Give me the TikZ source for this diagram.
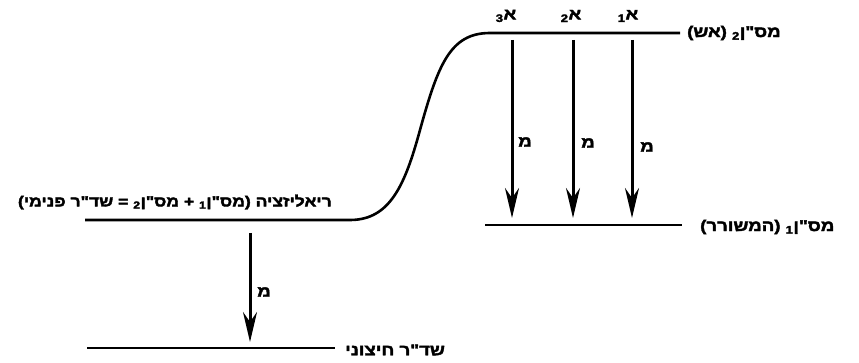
\documentclass[tikz,border=0pt]{standalone}
\usepackage{fontspec}
\setmainfont{Liberation Sans}
\newfontfamily\hebfont[Script=Hebrew,FakeStretch=1.2,FakeBold=2.5]{Liberation Sans}
\TeXXeTstate=1
\usetikzlibrary{arrows.meta}
\tikzset{
  level/.style={line width=2.6pt},
  down/.style={line width=3pt, -{Stealth[length=30pt,width=14pt,inset=10pt]}},
  heb/.style={font=\hebfont\bfseries\fontsize{15.5}{18}\selectfont, inner sep=0pt},
  hebsmall/.style={font=\hebfont\bfseries\fontsize{14.6}{17}\selectfont, inner sep=0pt},
}
\begin{document}
\begin{tikzpicture}[x=1pt,y=-1pt]
\useasboundingbox (0,0) rectangle (859,363);
% level lines
\coordinate (L1) at (85,220);
\coordinate (L2) at (350,220);
\coordinate (T1) at (490,33);
\coordinate (T2) at (680,33);
\coordinate (M1) at (485,225);
\coordinate (M2) at (682,225);
\coordinate (B1) at (87,348);
\coordinate (B2) at (335,348);
\draw[level] (L1) -- (L2) .. controls (390,220) and (405,185) .. (420,130)
  .. controls (438,65) and (450,33) .. (T1) -- (T2);
\draw[level] (M1) -- (M2);
\draw[level] (B1) -- (B2);
% arrows
\coordinate (a3s) at (512,40);  \coordinate (a3e) at (512,218);
\coordinate (a2s) at (573,40);  \coordinate (a2e) at (573,218);
\coordinate (a1s) at (632,40);  \coordinate (a1e) at (632,218);
\coordinate (a0s) at (250,233); \coordinate (a0e) at (250,342);
\draw[down] (a3s) -- (a3e);
\draw[down] (a2s) -- (a2e);
\draw[down] (a1s) -- (a1e);
\draw[down] (a0s) -- (a0e);
% arrow labels
\node[heb] (m3) at (525,142) {\beginR מ\endR};
\node[heb] (m2) at (588,143) {\beginR מ\endR};
\node[heb] (m1) at (647,147) {\beginR מ\endR};
\node[heb] (m0) at (264,292) {\beginR מ\endR};
% top labels
\node[heb] (A3) at (506,16) {\beginR א\textsubscript{3}\endR};
\node[heb] (A2) at (571,16) {\beginR א\textsubscript{2}\endR};
\node[heb] (A1) at (628,16) {\beginR א\textsubscript{1}\endR};
% level labels
\node[heb, anchor=west] (t2) at (687,33) {\beginR מס"ן\textsubscript{2} (אש)\endR};
\node[heb, anchor=west] (t1) at (700,227) {\beginR מס"ן\textsubscript{1} (המשורר)\endR};
\node[hebsmall, anchor=east] (tr) at (332,202) {\beginR ריאליזציה (מס"ן\textsubscript{1} + מס"ן\textsubscript{2} = שד"ר פנימי)\endR};
\node[heb, anchor=west] (tb) at (345,350) {\beginR שד"ר חיצוני\endR};
\end{tikzpicture}
\end{document}
